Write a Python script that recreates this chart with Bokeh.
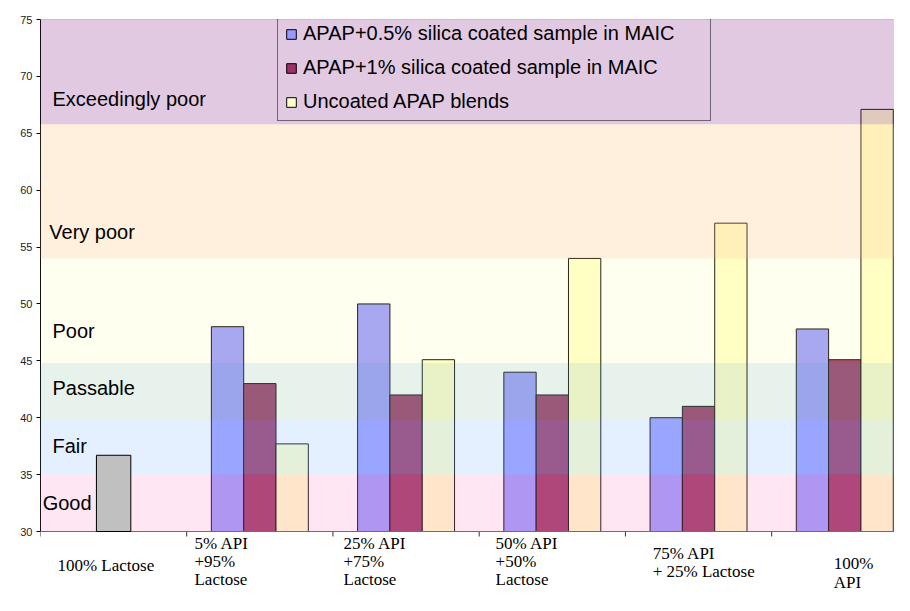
import numpy as np
from bokeh.plotting import figure
from bokeh.models import Range1d, FixedTicker, Legend, LegendItem, Span
from bokeh.core.properties import value
from bokeh.embed import file_html
from bokeh.resources import INLINE

# ---- data ----
groups = ["5% API +95% Lactose", "25% API +75% Lactose", "50% API +50% Lactose",
          "75% API + 25% Lactose", "100% API"]
coated_05 = [48.0, 50.0, 44.0, 40.0, 47.8]
coated_1 = [43.0, 42.0, 42.0, 41.0, 45.1]
uncoated = [37.7, 45.1, 54.0, 57.1, 67.1]
lactose_value = [36.7]

series_names = ["APAP+0.5% silica coated sample in MAIC",
                "APAP+1% silica coated sample in MAIC",
                "Uncoated APAP blends"]

band_names = ["Good", "Fair", "Passable", "Poor", "Very poor", "Exceedingly poor"]
band_lo = [30.0, 35.0, 39.8, 44.8, 54.0, 65.8]
band_hi = [35.0, 39.8, 44.8, 54.0, 65.8, 75.0]
band_label_y = [32.5, 37.5, 42.6, 47.6, 56.3, 68.0]
band_label_x = [0.015, 0.082, 0.082, 0.082, 0.06, 0.082]
band_colors = ["#ff90c5", "#99c6ff", "#a3cbb3", "#ffff99", "#ffcd8e", "#9e4b9e"]
band_alpha = [0.225, 0.265, 0.25, 0.15, 0.3, 0.3]

x_labels = ["100% Lactose", "5% API\n+95%\nLactose", "25% API\n+75%\nLactose",
            "50% API\n+50%\nLactose", "75% API\n + 25% Lactose", "100%\nAPI"]
x_label_x = [0.116, 1.053, 2.072, 3.112, 4.186, 5.424]
x_label_top = [27.89, 29.824, 29.824, 29.824, 28.945, 27.98]

y_ticks = [30, 35, 40, 45, 50, 55, 60, 65, 70, 75]

# ---- figure ----
W, H = 894, 595
FRAME_LEFT, FRAME_TOP = 40, 19
PX_PER_UNIT = 512 / 45.0
y_bottom = 30 - (H - 531) / PX_PER_UNIT

p = figure(width=W, height=H, output_backend="svg", toolbar_location=None,
           x_range=Range1d(0, 5.84), y_range=Range1d(y_bottom, 75),
           x_axis_location=None)
p.min_border = 0
p.min_border_left = FRAME_LEFT
p.min_border_top = FRAME_TOP
p.min_border_bottom = 0
p.min_border_right = 0
p.outline_line_color = None
p.xgrid.visible = False
p.ygrid.visible = False
p.background_fill_color = "white"
p.border_fill_color = "white"

bw = 0.221
centers = np.arange(len(groups)) + 1.5
r1 = p.vbar(x=centers - bw, top=coated_05, bottom=30, width=bw,
            fill_color="#9999ff", line_color="black", line_width=1)
r2 = p.vbar(x=centers, top=coated_1, bottom=30, width=bw,
            fill_color="#993366", line_color="black", line_width=1)
r3 = p.vbar(x=centers + bw, top=uncoated, bottom=30, width=bw,
            fill_color="#ffffcc", line_color="black", line_width=1)

legend = Legend(items=[LegendItem(label=series_names[0], renderers=[r1]),
                       LegendItem(label=series_names[1], renderers=[r2]),
                       LegendItem(label=series_names[2], renderers=[r3])],
                location=(237, H - 121))
legend.border_line_color = "black"
legend.border_line_width = 1
legend.background_fill_alpha = 0
legend.label_text_font = "Liberation Sans"
legend.label_text_font_size = "20px"
legend.label_text_color = "black"
legend.label_standoff = 6
legend.glyph_width = 12
legend.glyph_height = 12
legend.padding = 7
legend.spacing = 11
legend.label_width = 400
legend.margin = 0
p.add_layout(legend)

# bands drawn over the bars (semi-transparent)
p.quad(left=0, right=5.84, bottom=band_lo, top=band_hi,
       fill_color=band_colors, fill_alpha=band_alpha, line_color=None, level="overlay")
p.add_layout(Span(location=75, dimension="width", line_color="#b49cb4", line_width=1))

# lactose bar
p.vbar(x=[0.5], top=lactose_value, bottom=30, width=0.235,
       fill_color="#c0c0c0", line_color="black", line_width=1, level="overlay")

p.text(x=band_label_x, y=band_label_y, text=band_names,
       text_font=value("Liberation Sans"), text_font_size="20px",
       text_color="black", text_align="left", text_baseline="middle", level="overlay")

# category axis: line, boundary ticks, labels
p.add_layout(Span(location=30, dimension="width", line_color="#666666", line_width=1))
tick_x = np.arange(len(groups) + 1)
p.segment(x0=tick_x, y0=30, x1=tick_x, y1=30 - 5 / PX_PER_UNIT,
          line_color="#333333", line_width=1)
p.text(x=x_label_x, y=x_label_top, text=x_labels,
       text_font=value("Liberation Serif"), text_font_size="17px",
       text_color="black", text_align="left", text_baseline="top",
       text_line_height=0.95)

# y axis
p.yaxis.ticker = FixedTicker(ticks=y_ticks)
p.yaxis.bounds = (30, 75)
p.yaxis.major_label_text_font = "Liberation Sans"
p.yaxis.major_label_text_font_size = "11px"
p.yaxis.major_label_text_color = "#222222"
p.yaxis.major_tick_out = 4
p.yaxis.major_tick_in = 0
p.yaxis.minor_tick_out = 0
p.yaxis.minor_tick_in = 0
p.yaxis.major_label_standoff = 4
p.yaxis.axis_line_color = "black"
p.yaxis.major_tick_line_color = "black"

open("out.html", "w").write(file_html(p, INLINE))
